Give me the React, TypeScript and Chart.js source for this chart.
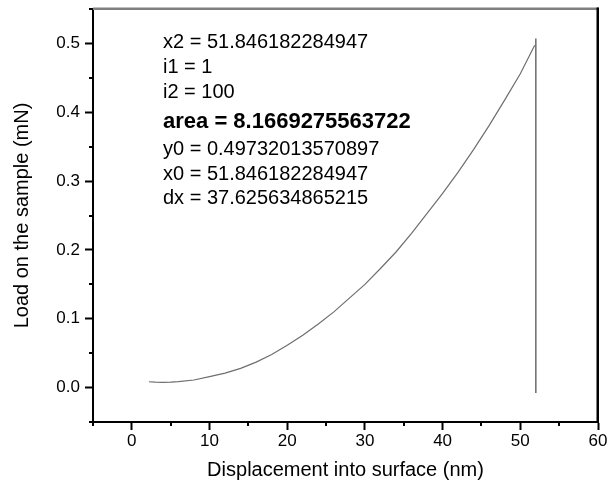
import React, { useEffect, useRef } from 'react';
import { Chart, registerables } from 'chart.js';

Chart.register(...registerables);

// Loading curve (displacement nm, load mN)
const curveX = [2.2, 3, 4, 5, 6, 8, 10, 12, 14, 16, 18, 20, 22, 24, 26, 28, 30, 32, 34, 36, 38, 40, 42, 44, 46, 48, 50, 51.85];
const curveY = [0.0085, 0.0079, 0.0077, 0.0079, 0.0086, 0.011, 0.016, 0.021, 0.028, 0.037, 0.048, 0.0615, 0.0762, 0.0925, 0.11, 0.13, 0.15, 0.173, 0.197, 0.224, 0.253, 0.282, 0.313, 0.346, 0.381, 0.418, 0.456, 0.4973];

// Vertical drop line
const dropX = [52.0, 52.0];
const dropY = [0.507, -0.008];

const xMajorTicks = [0, 10, 20, 30, 40, 50, 60];
const xMinorTicks = [-5, 5, 15, 25, 35, 45, 55];
const yMajorTicks = [0, 0.1, 0.2, 0.3, 0.4, 0.5];
const yMinorTicks = [-0.05, 0.05, 0.15, 0.25, 0.35, 0.45, 0.55];

const annotationLines = [
  'x2 = 51.846182284947',
  'i1 = 1',
  'i2 = 100',
  'area = 8.1669275563722',
  'y0 = 0.49732013570897',
  'x0 = 51.846182284947',
  'dx = 37.625634865215',
];
const boldLineIndex = 3;
const annotationBaselines = [39, 64, 88.5, 119, 146, 170.5, 195];

const FONT = "'Liberation Sans', Arial, Helvetica, sans-serif";

const framePlugin = {
  id: 'framePlugin',
  afterDraw(chart: any) {
    const { ctx, chartArea: a, scales } = chart;
    ctx.save();
    // frame: top (gray) and right (black)
    ctx.fillStyle = '#808080';
    ctx.fillRect(a.left, a.top - 1.5, a.right - a.left + 1, 2.5);
    ctx.fillStyle = '#000000';
    ctx.fillRect(a.right - 1.5, a.top - 1.5, 2.5, a.bottom - a.top + 2);
    // minor ticks
    ctx.lineWidth = 2;
    ctx.strokeStyle = '#000';
    ctx.beginPath();
    for (const v of xMinorTicks) {
      const px = Math.round(scales.x.getPixelForValue(v));
      ctx.moveTo(px, a.bottom);
      ctx.lineTo(px, a.bottom + 4);
    }
    for (const v of yMinorTicks) {
      const py = Math.round(scales.y.getPixelForValue(v));
      ctx.moveTo(a.left, py);
      ctx.lineTo(a.left - 4, py);
    }
    ctx.stroke();
    // annotation text
    ctx.fillStyle = '#000';
    ctx.textAlign = 'left';
    ctx.textBaseline = 'alphabetic';
    annotationLines.forEach((t, i) => {
      ctx.font = i === boldLineIndex ? `bold 22px ${FONT}` : `20px ${FONT}`;
      ctx.fillText(t, a.left + 70, a.top + annotationBaselines[i]);
    });
    ctx.restore();
  },
};

export default function App() {
  const canvasRef = useRef<HTMLCanvasElement | null>(null);

  useEffect(() => {
    document.body.style.margin = '0';
    const canvas = canvasRef.current;
    if (!canvas) return;
    Chart.defaults.font.family = FONT;
    Chart.defaults.color = '#000';

    const tickColor = (c: any) => (c.tick && c.tick.major ? '#000' : 'rgba(0,0,0,0)');

    const chart = new Chart(canvas, {
      type: 'scatter',
      data: {
        datasets: [
          {
            data: curveX.map((x, i) => ({ x, y: curveY[i] })),
            showLine: true,
            borderColor: '#6e6e6e',
            borderWidth: 1.2,
            pointRadius: 0,
            tension: 0,
          },
          {
            data: dropX.map((x, i) => ({ x, y: dropY[i] })),
            showLine: true,
            borderColor: '#555555',
            borderWidth: 1.3,
            pointRadius: 0,
          },
        ],
      },
      options: {
        animation: false,
        responsive: true,
        maintainAspectRatio: false,
        layout: { padding: { top: 9, right: 9, left: 0, bottom: 0 } },
        plugins: { legend: { display: false }, tooltip: { enabled: false } },
        scales: {
          x: {
            type: 'linear',
            min: -5,
            max: 60,
            afterBuildTicks: (s: any) => {
              s.ticks = [
                ...xMajorTicks.map((v) => ({ value: v, major: true })),
                ...xMinorTicks.map((v) => ({ value: v, major: false })),
              ].sort((p, q) => p.value - q.value);
            },
            afterFit: (s: any) => {
              s.height = 65;
              s.paddingLeft = 0;
              s.paddingRight = 0;
            },
            ticks: {
              autoSkip: false,
              maxRotation: 0,
              padding: 1,
              color: '#000',
              font: { size: 17 },
              callback: (v: any, i: number, ticks: any[]) => (ticks[i] && ticks[i].major ? String(v) : ''),
            },
            grid: {
              drawOnChartArea: false,
              drawTicks: true,
              tickLength: 8,
              tickWidth: 2,
              tickColor: tickColor,
            },
            border: { color: '#000', width: 2 },
            title: {
              display: true,
              text: 'Displacement into surface (nm)',
              color: '#000',
              font: { size: 20 },
              padding: { top: 0, bottom: 5 },
            },
          },
          y: {
            type: 'linear',
            min: -0.05,
            max: 0.55,
            afterBuildTicks: (s: any) => {
              s.ticks = [
                ...yMajorTicks.map((v) => ({ value: v, major: true })),
                ...yMinorTicks.map((v) => ({ value: v, major: false })),
              ].sort((p, q) => p.value - q.value);
            },
            afterFit: (s: any) => {
              s.width = 93;
              s.paddingTop = 0;
              s.paddingBottom = 0;
            },
            ticks: {
              autoSkip: false,
              padding: 5,
              color: '#000',
              font: { size: 17 },
              callback: (v: any, i: number, ticks: any[]) =>
                ticks[i] && ticks[i].major ? Number(v).toFixed(1) : '',
            },
            grid: {
              drawOnChartArea: false,
              drawTicks: true,
              tickLength: 8,
              tickWidth: 2,
              tickColor: tickColor,
            },
            border: { color: '#000', width: 2 },
            title: {
              display: true,
              text: 'Load on the sample (mN)',
              color: '#000',
              font: { size: 20 },
              padding: { top: 10, bottom: 0 },
            },
          },
        },
      },
      plugins: [framePlugin],
    } as any);

    return () => chart.destroy();
  }, []);

  return (
    <div style={{ position: 'fixed', left: 0, top: 0, width: 607, height: 487, background: '#fff' }}>
      <canvas ref={canvasRef} />
    </div>
  );
}
